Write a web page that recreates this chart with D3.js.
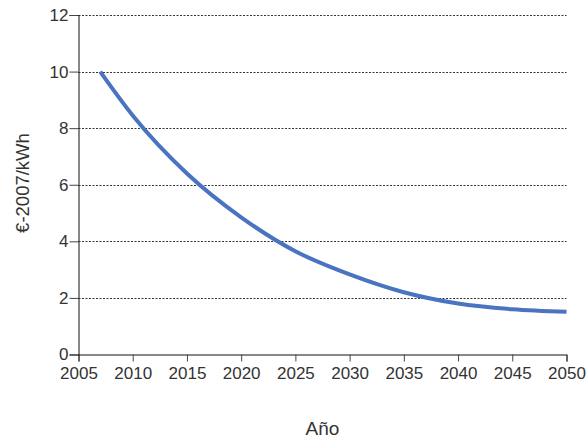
<!DOCTYPE html>
<html><head><meta charset="utf-8">
<script src="https://cdn.jsdelivr.net/npm/d3@7"></script>
<style>body{margin:0;background:#fff}svg text{font-family:"Liberation Sans",Arial,Helvetica,sans-serif;fill:#333}</style>
</head><body><svg id="c" width="588" height="441"></svg>
<script>
const years  = [2007, 2010, 2015, 2020, 2025, 2030, 2035, 2040, 2045, 2050];
const values = [10.0, 8.45, 6.4, 4.85, 3.65, 2.83, 2.2, 1.8, 1.6, 1.51];
const xTicks = [2005, 2010, 2015, 2020, 2025, 2030, 2035, 2040, 2045, 2050];
const yTicks = [0, 2, 4, 6, 8, 10, 12];
const xLabel = "Año";
const yLabel = "€-2007/kWh";

const svg = d3.select("#c");
const m = {l: 78.5, r: 566.5, t: 15, b: 354.5};
const x = d3.scaleLinear().domain([2005, 2050]).range([m.l, m.r]);
const y = d3.scaleLinear().domain([0, 12]).range([m.b, m.t]);

// grid
svg.append("g").selectAll("line").data(yTicks.filter(d => d > 0)).join("line")
  .attr("x1", m.l).attr("x2", m.r)
  .attr("y1", d => Math.round(y(d)) + 0.5).attr("y2", d => Math.round(y(d)) + 0.5)
  .attr("stroke", "#333").attr("stroke-width", 1).attr("stroke-dasharray", "2,1.5");

const xa = svg.append("g").attr("transform", `translate(0,${m.b})`)
  .call(d3.axisBottom(x).tickValues(xTicks).tickFormat(d3.format("d")).tickSize(7).tickPadding(5));
const ya = svg.append("g").attr("transform", `translate(${m.l},0)`)
  .call(d3.axisLeft(y).tickValues(yTicks).tickSize(9).tickPadding(1));
[xa, ya].forEach(a => {
  a.select(".domain").attr("stroke", "#111");
  a.selectAll(".tick line").attr("stroke", "#444");
  a.selectAll("text").style("font-size", "17px").attr("fill", "#333");
});

svg.append("path").datum(years.map((d, i) => [d, values[i]]))
  .attr("fill", "none").attr("stroke", "#4a73c0").attr("stroke-width", 4)
  .attr("stroke-linecap", "butt")
  .attr("d", d3.line().x(d => x(d[0])).y(d => y(d[1])).curve(d3.curveMonotoneX));

svg.append("text").attr("x", 322.5).attr("y", 435).attr("text-anchor", "middle")
  .style("font-size", "19px").text(xLabel);
svg.append("text").attr("transform", "translate(29,183) rotate(-90)").attr("text-anchor", "middle")
  .style("font-size", "18.5px").text(yLabel);
</script></body></html>
